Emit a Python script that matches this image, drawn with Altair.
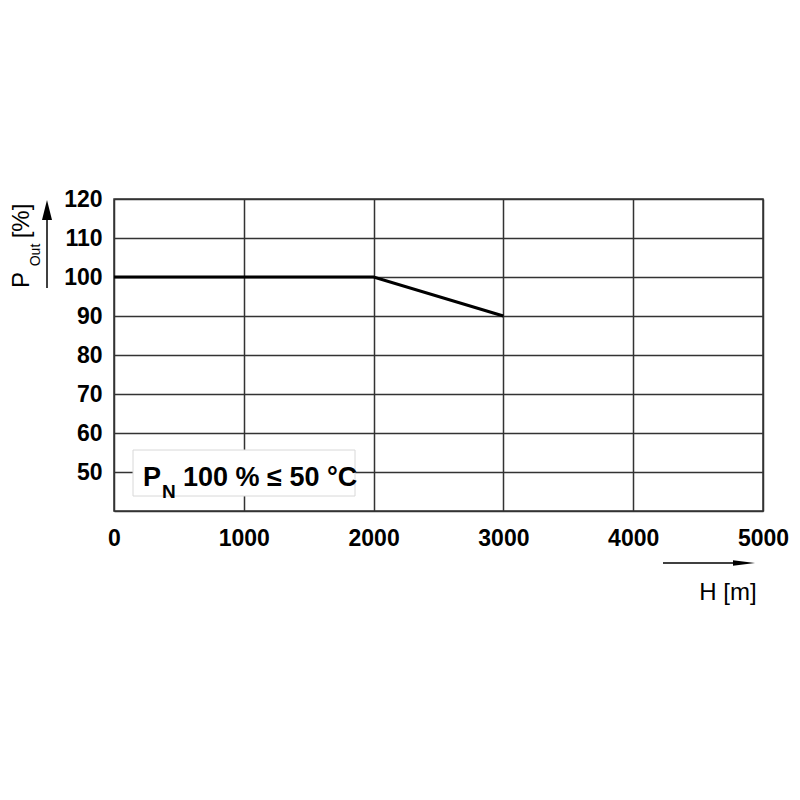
import altair as alt
import pandas as pd

# Data
height_m = [0, 2000, 3000]
power_pct = [100, 100, 90]
x_ticks = [0, 1000, 2000, 3000, 4000, 5000]
y_ticks = [40, 50, 60, 70, 80, 90, 100, 110, 120]

FONT = "Liberation Sans"
W, H = 649, 312

df = pd.DataFrame({"H": height_m, "P": power_pct})
one = pd.DataFrame({"k": [0]})

xs = alt.Scale(domain=[0, 5000], nice=False)
ys = alt.Scale(domain=[40, 120], nice=False)

line = alt.Chart(df).mark_line(color="black", strokeWidth=3).encode(
    x=alt.X("H:Q", scale=xs,
            axis=alt.Axis(values=x_ticks, title=None, format="d", labelPadding=16,
                          labelFlush=False)),
    y=alt.Y("P:Q", scale=ys,
            axis=alt.Axis(values=y_ticks, title=None, format="d", labelPadding=12,
                          labelFlush=False,
                          labelExpr="datum.value == 40 ? '' : datum.label")),
)

box = alt.Chart(one).mark_rect(fill="white", stroke="#d8d8d8", strokeWidth=1).encode(
    x=alt.value(19), x2=alt.value(241), y=alt.value(251), y2=alt.value(297)
)

def txt(s, x, y, size, bold=True, angle=0, align="left", baseline="alphabetic"):
    kw = dict(text=s, font=FONT, fontSize=size, fontWeight="bold" if bold else "normal",
              color="black", align=align, baseline=baseline)
    if angle:
        kw["angle"] = angle
    return alt.Chart(one).mark_text(**kw).encode(x=alt.value(x), y=alt.value(y))

ann_p = txt("P", 29, 287, 27)
ann_n = txt("N", 48, 299, 19)
ann_rest = txt("100 % \u2264 50 \u00b0C", 69, 287, 27)

# Y axis title with arrow
yt_p = txt("P", -85, 81, 24, bold=False, angle=270, align="center")
yt_out = txt("Out", -74, 56, 14, bold=False, angle=270, align="center")
yt_pct = txt("[%]", -85, 22, 24, bold=False, angle=270, align="center")
y_arrow = alt.Chart(one).mark_rule(color="black", strokeWidth=1.5).encode(
    x=alt.value(-67), y=alt.value(89), y2=alt.value(15)
)
y_head = alt.Chart(one).mark_point(shape="M0,-1L0.5,1L-0.5,1Z", filled=True,
                                   color="black", opacity=1, size=400).encode(
    x=alt.value(-67), y=alt.value(11)
)

# X axis title with arrow
xt = txt("H [m]", 614, 401, 24, bold=False, align="center")
x_arrow = alt.Chart(one).mark_rule(color="black", strokeWidth=1.5).encode(
    x=alt.value(549), x2=alt.value(623), y=alt.value(364)
)
x_head = alt.Chart(one).mark_point(shape="M1,0L-1,-0.25L-1,0.25Z", filled=True,
                                   color="black", opacity=1, size=484).encode(
    x=alt.value(630), y=alt.value(364)
)

chart = alt.layer(
    box, line, ann_p, ann_n, ann_rest,
    yt_p, yt_out, yt_pct, y_arrow, y_head,
    xt, x_arrow, x_head,
).properties(
    width=W, height=H,
    autosize=alt.AutoSizeParams(type="none"),
    padding={"left": 106, "top": 191, "right": 29, "bottom": 120},
    background="white",
).configure_view(
    stroke="#333333", strokeWidth=1.5
).configure_axis(
    grid=True, gridColor="#333333", gridWidth=1.5, gridOpacity=1,
    domain=False, ticks=False,
    labelFont=FONT, labelFontSize=23, labelFontWeight="bold", labelColor="black",
)

chart.save("out.html", embed_options={"renderer": "svg", "actions": False})
